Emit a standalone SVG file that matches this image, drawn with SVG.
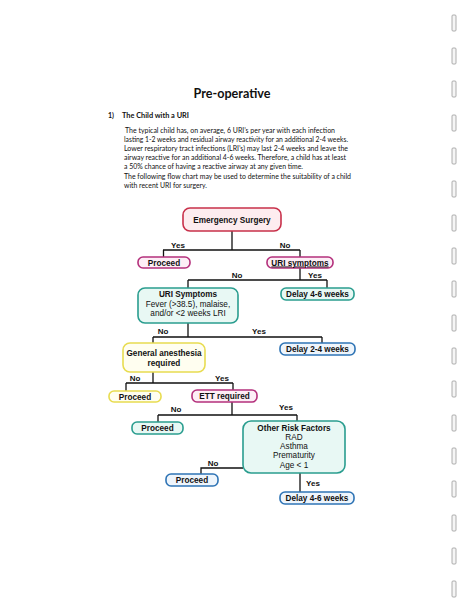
<svg xmlns="http://www.w3.org/2000/svg" width="463" height="599" viewBox="0 0 463 599">
<style>
.doc{font-family:Lato,"Open Sans","Liberation Sans",sans-serif;fill:#111}
.title{font-size:13.5px;font-weight:bold}
.h{font-size:7px;font-weight:bold}
.p{font-size:7px}
.n{font-family:"Liberation Sans",Arial,sans-serif;font-size:8.2px;fill:#111;text-anchor:middle}
.b{font-weight:bold}
.lbl{font-family:"Liberation Sans",Arial,sans-serif;font-size:8px;font-weight:bold;fill:#111;text-anchor:middle}
.red{fill:#fdecef;stroke:#c8304a;stroke-width:1.6}
.mag{fill:#fdeef6;stroke:#b4307c;stroke-width:1.6}
.teal{fill:#e8f8f4;stroke:#2a9d8f;stroke-width:1.6}
.yel{fill:#fffef0;stroke:#e8dc50;stroke-width:1.6}
.blue{fill:#eef5fc;stroke:#2f74b5;stroke-width:1.6}
.hole{fill:#f5f5f5;stroke:#9a9a9a;stroke-width:0.8}
.conn{fill:none;stroke:#111;stroke-width:1.3}
</style>
<rect width="463" height="599" fill="#ffffff"/>
<g id="binder-holes">
<rect class="hole" x="452" y="15" width="4" height="16" rx="1"/>
<rect class="hole" x="452" y="48" width="4" height="16" rx="1"/>
<rect class="hole" x="452" y="81" width="4" height="16" rx="1"/>
<rect class="hole" x="452" y="115" width="4" height="16" rx="1"/>
<rect class="hole" x="452" y="148" width="4" height="16" rx="1"/>
<rect class="hole" x="452" y="181" width="4" height="16" rx="1"/>
<rect class="hole" x="452" y="215" width="4" height="16" rx="1"/>
<rect class="hole" x="452" y="248" width="4" height="16" rx="1"/>
<rect class="hole" x="452" y="281" width="4" height="16" rx="1"/>
<rect class="hole" x="452" y="315" width="4" height="16" rx="1"/>
<rect class="hole" x="452" y="348" width="4" height="16" rx="1"/>
<rect class="hole" x="452" y="381" width="4" height="16" rx="1"/>
<rect class="hole" x="452" y="415" width="4" height="16" rx="1"/>
<rect class="hole" x="452" y="448" width="4" height="16" rx="1"/>
<rect class="hole" x="452" y="481" width="4" height="16" rx="1"/>
<rect class="hole" x="452" y="515" width="4" height="16" rx="1"/>
<rect class="hole" x="452" y="548" width="4" height="16" rx="1"/>
<rect class="hole" x="452" y="581" width="4" height="16" rx="1"/>
</g>
<g id="header" class="doc">
<text class="title" x="232" y="98" text-anchor="middle" textLength="77" lengthAdjust="spacingAndGlyphs">Pre-operative</text>
<text class="h" x="108" y="117.5">1)</text>
<text class="h" x="122" y="117.5" textLength="67" lengthAdjust="spacingAndGlyphs">The Child with a URI</text>
<text class="p" x="125" y="132.5" textLength="210" lengthAdjust="spacingAndGlyphs">The typical child has, on average, 6 URI’s per year with each infection</text>
<text class="p" x="124" y="141.5" textLength="224" lengthAdjust="spacingAndGlyphs">lasting 1-2 weeks and residual airway reactivity for an additional 2-4 weeks.</text>
<text class="p" x="124" y="150.5" textLength="224" lengthAdjust="spacingAndGlyphs">Lower respiratory tract infections (LRI’s) may last 2-4 weeks and leave the</text>
<text class="p" x="124" y="159.5" textLength="222" lengthAdjust="spacingAndGlyphs">airway reactive for an additional 4-6 weeks.  Therefore, a child has at least</text>
<text class="p" x="124" y="169" textLength="179" lengthAdjust="spacingAndGlyphs">a 50% chance of having a reactive airway at any given time.</text>
<text class="p" x="124" y="178.5" textLength="227" lengthAdjust="spacingAndGlyphs">The following flow chart may be used to determine the suitability of a child</text>
<text class="p" x="124" y="187.5" textLength="83" lengthAdjust="spacingAndGlyphs">with recent URI for surgery.</text>
</g>
<g id="connectors">
<path class="conn" d="M232,231 V250 M163,250 H300 M163.5,250 V257 M300,250 V257"/>
<path class="conn" d="M300,268 V280 M188,280 H327 M188,280 V288 M327,280 V288"/>
<path class="conn" d="M188,323 V337 M153,337 H322 M153,337 V343 M322,337 V343"/>
<path class="conn" d="M153,372 V383 M126,383 H233 M126,383 V391 M233,383 V390"/>
<path class="conn" d="M232,402 V415 M158,415 H297 M158,415 V422 M297,415 V421"/>
<path class="conn" d="M243,468 H201 V474"/>
<path class="conn" d="M300,473 V492"/>
</g>
<g id="edge-labels">
<text class="lbl" x="178" y="247.5">Yes</text>
<text class="lbl" x="285" y="247.5">No</text>
<text class="lbl" x="237" y="278">No</text>
<text class="lbl" x="315" y="277.5">Yes</text>
<text class="lbl" x="163" y="334">No</text>
<text class="lbl" x="259" y="334">Yes</text>
<text class="lbl" x="135" y="380.5">No</text>
<text class="lbl" x="222" y="380.5">Yes</text>
<text class="lbl" x="176" y="412">No</text>
<text class="lbl" x="286" y="410">Yes</text>
<text class="lbl" x="213" y="465.5">No</text>
<text class="lbl" x="313" y="486">Yes</text>
</g>
<g id="emergency-surgery">
<rect class="red" x="183" y="208" width="98" height="23" rx="7"/>
<text class="n b" x="232" y="222.5">Emergency Surgery</text>
</g>
<g id="proceed-1">
<rect class="mag" x="138" y="257" width="52" height="11" rx="5"/>
<text class="n b" x="164" y="265.5">Proceed</text>
</g>
<g id="uri-symptoms-q">
<rect class="mag" x="267" y="257" width="66" height="11" rx="5"/>
<text class="n b" x="300" y="265.5" text-decoration="underline">URI symptoms</text>
</g>
<g id="delay-4-6-a">
<rect class="teal" x="281" y="288" width="73" height="12" rx="5"/>
<text class="n b" x="317.5" y="297">Delay 4-6 weeks</text>
</g>
<g id="uri-symptoms-detail">
<rect class="teal" x="138" y="288" width="100" height="35" rx="7"/>
<text class="n b" x="188" y="297">URI Symptoms</text>
<text class="n" x="188" y="306.5">Fever (&gt;38.5), malaise,</text>
<text class="n" x="188" y="316">and/or &lt;2 weeks LRI</text>
</g>
<g id="delay-2-4">
<rect class="blue" x="280" y="343" width="75" height="12" rx="5"/>
<text class="n b" x="317.5" y="352">Delay 2-4 weeks</text>
</g>
<g id="general-anesthesia">
<rect class="yel" x="123" y="343" width="82" height="29" rx="7"/>
<text class="n b" x="164" y="355.5">General anesthesia</text>
<text class="n b" x="164" y="365.5">required</text>
</g>
<g id="proceed-2">
<rect class="yel" x="109" y="391" width="52" height="11" rx="5"/>
<text class="n b" x="135" y="399.5">Proceed</text>
</g>
<g id="ett-required">
<rect class="mag" x="192" y="390" width="65" height="12" rx="5"/>
<text class="n b" x="224.5" y="399">ETT required</text>
</g>
<g id="proceed-3">
<rect class="teal" x="132" y="422" width="51" height="12" rx="5"/>
<text class="n b" x="157.5" y="431">Proceed</text>
</g>
<g id="other-risk-factors">
<rect class="teal" x="243" y="421" width="102" height="52" rx="8"/>
<text class="n b" x="294" y="431">Other Risk Factors</text>
<text class="n" x="294" y="440">RAD</text>
<text class="n" x="294" y="449">Asthma</text>
<text class="n" x="294" y="458">Prematurity</text>
<text class="n" x="294" y="467.5">Age &lt; 1</text>
</g>
<g id="proceed-4">
<rect class="blue" x="166" y="474" width="52" height="12" rx="5"/>
<text class="n b" x="192" y="483">Proceed</text>
</g>
<g id="delay-4-6-b">
<rect class="blue" x="280" y="492" width="74" height="12" rx="5"/>
<text class="n b" x="317" y="501">Delay 4-6 weeks</text>
</g>
</svg>
